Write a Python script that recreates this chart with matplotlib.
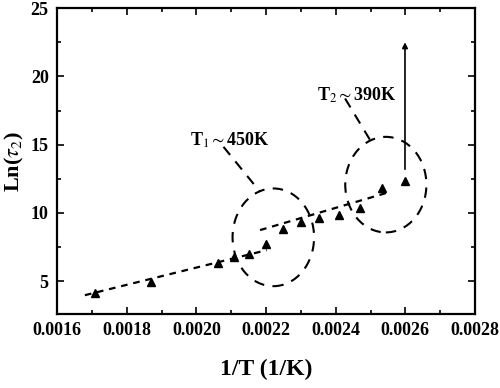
import matplotlib
matplotlib.use("Agg")
import matplotlib.pyplot as plt
from matplotlib.patches import Ellipse
from matplotlib.ticker import MultipleLocator, FormatStrFormatter

plt.rcParams['font.family'] = ['Liberation Serif', 'DejaVu Serif']
plt.rcParams['mathtext.fontset'] = 'stix'

# measured points
inv_T = [0.00171, 0.00187, 0.002063, 0.002108, 0.002152, 0.00220, 0.002248,
         0.00230, 0.002353, 0.00241, 0.00247, 0.002532, 0.002599]
ln_tau = [4.1, 4.95, 6.3, 6.74, 6.98, 7.71, 8.79, 9.34, 9.59, 9.83, 10.33, 11.79, 12.35]

# dashed guide lines (two regimes)
fit1_x = [0.00168, 0.002202]
fit1_y = [3.97, 7.27]
fit2_x = [0.002183, 0.002547]
fit2_y = [8.74, 11.47]

fig = plt.figure(figsize=(5, 3.88), dpi=100)
ax = fig.add_axes([0.114, 0.191, 0.836, 0.788])

ax.plot(fit1_x, fit1_y, color='black', lw=1.6, ls=(0, (3, 2.6)))
ax.plot(fit2_x, fit2_y, color='black', lw=1.6, ls=(0, (3, 2.6)))
ax.plot(inv_T, ln_tau, ls='none', marker='^', color='black', markersize=6)

# dashed circles around the transitions
for cx, cy, w, h in [(0.002221, 8.21, 0.000234, 7.16), (0.002544, 12.07, 0.000233, 7.0)]:
    ax.add_patch(Ellipse((cx, cy), w, h, fill=False, ec='black', lw=1.5,
                         ls=(0, (5, 4))))

# leader lines
ax.plot([0.002078, 0.002183], [14.84, 11.54], color='black', lw=1.5, ls=(0, (5, 4)))
ax.plot([0.002427, 0.002499], [18.38, 15.33], color='black', lw=1.5, ls=(0, (5, 4)))

ax.text(0.001982, 15.3, r'T$_1$$\sim$450K', fontsize=13, fontweight='bold',
        va='center', ha='left')
ax.text(0.002346, 18.6, r'T$_2$$\sim$390K', fontsize=13, fontweight='bold',
        va='center', ha='left')

# arrow
ax.annotate('', xy=(0.002599, 22.5), xytext=(0.002599, 13.2),
            arrowprops=dict(arrowstyle='-|>', color='black', lw=1.2,
                            mutation_scale=8, shrinkA=0, shrinkB=0))

ax.set_xlim(0.0016, 0.0028)
ax.set_ylim(2.6, 25)
ax.xaxis.set_major_locator(MultipleLocator(0.0002))
ax.xaxis.set_minor_locator(MultipleLocator(0.0001))
ax.yaxis.set_major_locator(MultipleLocator(5))
ax.yaxis.set_minor_locator(MultipleLocator(2.5))
ax.xaxis.set_major_formatter(FormatStrFormatter('%.4f'))
ax.tick_params(which='both', direction='in', top=True, right=True, width=1.2)
ax.tick_params(which='major', length=5, labelsize=13, pad=6)
ax.tick_params(which='minor', length=3)
for lab in ax.get_xticklabels() + ax.get_yticklabels():
    lab.set_fontweight('bold')
for sp in ax.spines.values():
    sp.set_linewidth(1.6)

ax.set_xlabel('1/T (1/K)', fontsize=17, fontweight='bold', labelpad=14)
ax.set_ylabel(r'Ln($\tau_2$)', fontsize=16, fontweight='bold', labelpad=3)

fig.savefig('out.png', dpi=100)
